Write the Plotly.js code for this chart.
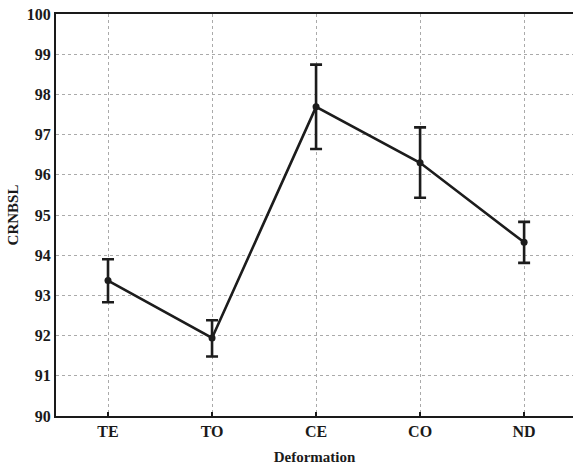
<!DOCTYPE html>
<html>
<head>
<meta charset="utf-8">
<script src="https://cdn.plot.ly/plotly-3.0.1.min.js"></script>
<style>html,body{margin:0;padding:0;background:#fff;}#chart{width:573px;height:468px;}</style>
</head>
<body>
<div id="chart"></div>
<script>
const categories = ['TE', 'TO', 'CE', 'CO', 'ND'];
const meanValues = [93.37, 91.94, 97.69, 96.30, 94.32];
const upperValues = [93.90, 92.38, 98.74, 97.18, 94.83];
const lowerValues = [92.83, 91.48, 96.64, 95.43, 93.81];
const yTicks = [90, 91, 92, 93, 94, 95, 96, 97, 98, 99, 100];

const plus = upperValues.map((u, i) => u - meanValues[i]);
const minus = meanValues.map((m, i) => m - lowerValues[i]);
const fontFam = '"Liberation Serif", "Times New Roman", serif';

const trace = {
  x: categories,
  y: meanValues,
  type: 'scatter',
  mode: 'lines+markers',
  line: {color: '#1c1c1c', width: 2.6},
  marker: {color: '#1c1c1c', size: 7},
  error_y: {type: 'data', symmetric: false, array: plus, arrayminus: minus,
            color: '#1c1c1c', thickness: 2.6, width: 6},
  hoverinfo: 'skip'
};

const layout = {
  width: 573, height: 468,
  margin: {l: 56, r: 0, t: 14, b: 52},
  paper_bgcolor: '#fff', plot_bgcolor: '#fff',
  showlegend: false,
  font: {family: fontFam, color: '#1a1a1a', size: 16},
  xaxis: {
    type: 'category', range: [-0.5, 4.47],
    showline: true, linecolor: '#1a1a1a', linewidth: 2, mirror: true,
    showgrid: true, gridcolor: '#aaa', griddash: 'dot', gridwidth: 1,
    ticks: 'inside', ticklen: 4, tickcolor: '#1a1a1a', tickwidth: 1.5,
    tickfont: {family: fontFam, size: 16, color: '#1a1a1a', weight: 'bold'},
    zeroline: false,
    title: {text: '<b>Deformation</b>', font: {family: fontFam, size: 15, color: '#1a1a1a'}, standoff: 12}
  },
  yaxis: {
    range: [90, 100], tickvals: yTicks, ticktext: yTicks.map(v => '<b>' + v + '</b>'),
    showline: true, linecolor: '#1a1a1a', linewidth: 2, mirror: false,
    showgrid: true, gridcolor: '#aaa', griddash: 'dot', gridwidth: 1,
    ticks: '', zeroline: false,
    tickfont: {family: fontFam, size: 16, color: '#1a1a1a'},
    title: {text: '<b>CRNBSL</b>', font: {family: fontFam, size: 15, color: '#1a1a1a'}, standoff: 5}
  }
};

Plotly.newPlot('chart', [trace], layout, {displayModeBar: false, staticPlot: true});
</script>
</body>
</html>
